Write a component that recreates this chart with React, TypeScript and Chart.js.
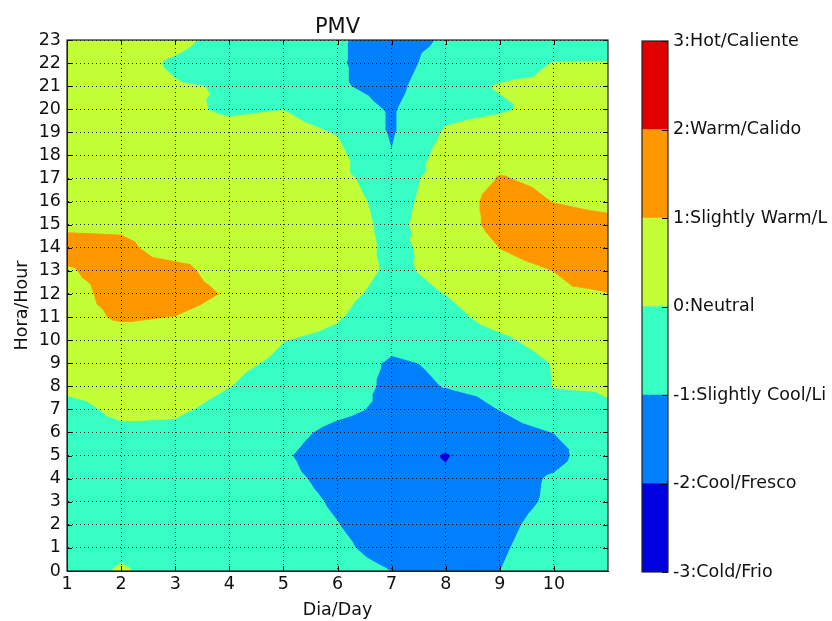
import React, { useEffect, useRef } from "react";
import { Chart, registerables } from "chart.js";

Chart.register(...registerables);

// ---------------- data ----------------
const chartTitle = "PMV";
const xTitle = "Dia/Day";
const yTitle = "Hora/Hour";

const days = [1, 2, 3, 4, 5, 6, 7, 8, 9, 10, 11];
const hours = [0, 1, 2, 3, 4, 5, 6, 7, 8, 9, 10, 11, 12, 13, 14, 15, 16, 17, 18, 19, 20, 21, 22, 23];
const xTickLabels = ["1", "2", "3", "4", "5", "6", "7", "8", "9", "10"];

// PMV value per day, hour 0..23
const day1 = [-0.5, -0.5, -0.5, -0.5, -0.5, -0.5, -0.4, -0.3, 0.2, 0.4, 0.6, 0.7, 0.6, 0.92, 1.3, 0.84, 0.7, 0.6, 0.5, 0.5, 0.5, 0.5, 0.5, 0.5];
const day2 = [0.1, -0.2, -0.4, -0.4, -0.4, -0.4, -0.2, 0.2, 0.35, 0.5, 0.6, 1.1, 1.4, 1.32, 1.25, 0.8, 0.6, 0.5, 0.4, 0.4, 0.35, 0.3, 0.3, 0.3];
const day3 = [-0.4, -0.5, -0.5, -0.5, -0.5, -0.5, -0.15, 0.1, 0.3, 0.5, 0.7, 0.98, 1.4, 1.33, 0.5, 0.5, 0.5, 0.45, 0.4, 0.3, 0.15, 0.05, -0.1, 0.2];
const day4 = [-0.5, -0.6, -0.6, -0.6, -0.7, -0.7, -0.5, -0.2, 0.01, 0.13, 0.3, 0.6, 0.9, 0.5, 0.6, 0.6, 0.6, 0.5, 0.4, 0.2, -0.1, -0.04, -0.4, -0.3];
const day5 = [-0.6, -0.6, -0.65, -0.7, -0.8, -0.9, -0.7, -0.4, -0.3, -0.1, 0.01, 0.3, 0.5, 0.6, 0.7, 0.7, 0.7, 0.6, 0.5, 0.3, -0.01, -0.3, -0.6, -0.5];
const day6 = [-0.6, -0.8, -0.98, -1.1, -1.25, -1.5, -1.25, -0.79, -0.5, -0.6, -0.15, 0.05, 0.17, 0.3, 0.39, 0.39, 0.3, 0.2, 0.2, -0.05, -0.5, -0.9, -0.9, -0.9];
const day7 = [-1.01, -1.4, -1.5, -1.6, -1.7, -1.6, -1.5, -1.2, -1.2, -1.1, -0.8, -0.4, -0.2, -0.1, -0.15, -0.2, -0.25, -0.4, -0.97, -1.1, -1.1, -1.3, -1.5, -1.4];
const day8 = [-1.3, -1.6, -1.7, -1.8, -1.9, -2.05, -1.7, -1.38, -0.98, -0.9, -0.6, -0.3, 0.01, 0.12, 0.22, 0.4, 0.33, 0.35, 0.4, 0.1, -0.27, -0.3, -0.5, -0.9];
const day9 = [-1.005, -1.1, -1.2, -1.3, -1.4, -1.5, -1.3, -0.99, -0.8, -0.7, -0.19, 0.37, 0.6, 0.7, 1.01, 1.31, 1.39, 1.05, 0.7, 0.4, -0.1, 0.05, -0.4, -0.6];
const day10 = [-0.5, -0.6, -0.7, -0.88, -0.9, -1.3, -0.99, -0.5, 0.03, 0.05, 0.44, 0.7, 0.9, 1.004, 1.4, 1.3, 0.98, 0.8, 0.7, 0.6, 0.3, 0.15, 0.02, -0.5];
const day11 = [-0.4, -0.4, -0.5, -0.5, -0.4, -0.3, -0.5, -0.1, 0.1, 0.3, 0.5, 0.8, 0.98, 1.3, 1.4, 1.2, 0.8, 0.6, 0.5, 0.5, 0.4, 0.2, 0.03, -0.4];
const pmvByDay = [day1, day2, day3, day4, day5, day6, day7, day8, day9, day10, day11];

const levels = [-3, -2, -1, 0, 1, 2, 3];
const bandColors = ["#0000e0", "#0080ff", "#37ffc3", "#c3ff37", "#ff9700", "#e00000"];
const levelLabels = [
  "-3:Cold/Frio",
  "-2:Cool/Fresco",
  "-1:Slightly Cool/Li",
  "0:Neutral",
  "1:Slightly Warm/L",
  "2:Warm/Calido",
  "3:Hot/Caliente",
];

// ---------------- helpers ----------------
const FONT = "'DejaVu Sans', 'Liberation Sans', sans-serif";
const TXT = "#111111";
const FONT_SIZE = 17.5;

type P = { x: number; y: number; v: number };

function clipPoly(poly: P[], t: number, keepAbove: boolean): P[] {
  const out: P[] = [];
  const n = poly.length;
  for (let k = 0; k < n; k++) {
    const a = poly[k];
    const b = poly[(k + 1) % n];
    const ina = keepAbove ? a.v >= t : a.v <= t;
    const inb = keepAbove ? b.v >= t : b.v <= t;
    if (ina) out.push(a);
    if (ina !== inb) {
      const s = (t - a.v) / (b.v - a.v);
      out.push({ x: a.x + s * (b.x - a.x), y: a.y + s * (b.y - a.y), v: t });
    }
  }
  return out;
}

const contourPlugin = {
  id: "contourFill",
  beforeDraw(chart: any) {
    const { ctx, chartArea } = chart;
    const X = chart.scales.x;
    const Y = chart.scales.y;
    const data = chart.data.datasets[0].data as { x: number; y: number; v: number }[];
    const grid = new Map<string, number>();
    data.forEach((p) => grid.set(p.x + "," + p.y, p.v));
    const pt = (dx: number, hy: number): P => ({
      x: X.getPixelForValue(dx),
      y: Y.getPixelForValue(hy),
      v: grid.get(dx + "," + hy) as number,
    });
    const tris: P[][] = [];
    for (let i = 0; i < days.length - 1; i++) {
      for (let j = 0; j < hours.length - 1; j++) {
        const a = pt(days[i], hours[j]);
        const b = pt(days[i + 1], hours[j]);
        const c = pt(days[i + 1], hours[j + 1]);
        const d = pt(days[i], hours[j + 1]);
        const m: P = { x: (a.x + c.x) / 2, y: (a.y + c.y) / 2, v: (a.v + b.v + c.v + d.v) / 4 };
        tris.push([a, b, m], [b, c, m], [c, d, m], [d, a, m]);
      }
    }
    ctx.save();
    ctx.beginPath();
    ctx.rect(chartArea.left, chartArea.top, chartArea.right - chartArea.left, chartArea.bottom - chartArea.top);
    ctx.clip();
    for (let k = 0; k < bandColors.length; k++) {
      const lo = levels[k];
      const hi = levels[k + 1];
      ctx.beginPath();
      let any = false;
      for (const tri of tris) {
        let p = clipPoly(tri, lo, true);
        if (p.length >= 3) p = clipPoly(p, hi, false);
        if (p.length >= 3) {
          any = true;
          ctx.moveTo(p[0].x, p[0].y);
          for (let q = 1; q < p.length; q++) ctx.lineTo(p[q].x, p[q].y);
          ctx.closePath();
        }
      }
      if (any) {
        ctx.fillStyle = bandColors[k];
        ctx.fill();
        ctx.strokeStyle = bandColors[k];
        ctx.lineWidth = 0.8;
        ctx.lineJoin = "round";
        ctx.stroke();
      }
    }
    ctx.restore();
  },
  afterDraw(chart: any) {
    const { ctx, chartArea } = chart;
    const X = chart.scales.x;
    const Y = chart.scales.y;
    const { left, right, top, bottom } = chartArea;
    ctx.save();
    ctx.strokeStyle = "#000";
    ctx.lineWidth = 1;
    ctx.beginPath();
    const tl = 5;
    xTickLabels.forEach((lab) => {
      const px = Math.round(X.getPixelForValue(Number(lab))) + 0.5;
      ctx.moveTo(px, bottom);
      ctx.lineTo(px, bottom - tl);
      ctx.moveTo(px, top);
      ctx.lineTo(px, top + tl);
    });
    hours.forEach((h) => {
      const py = Math.round(Y.getPixelForValue(h)) + 0.5;
      ctx.moveTo(left, py);
      ctx.lineTo(left + tl, py);
      ctx.moveTo(right, py);
      ctx.lineTo(right - tl, py);
    });
    ctx.stroke();
    ctx.lineWidth = 1.2;
    ctx.strokeStyle = "#222";
    ctx.strokeRect(left, top, right - left, bottom - top);
    ctx.fillStyle = TXT;
    ctx.font = `21px ${FONT}`;
    ctx.textAlign = "center";
    ctx.textBaseline = "alphabetic";
    ctx.fillText(chartTitle, (left + right) / 2, 33);
    ctx.restore();
  },
};

const colorbarFrame = {
  id: "cbFrame",
  afterDraw(chart: any) {
    const { ctx, chartArea } = chart;
    const Y = chart.scales.y;
    const { left, right, top, bottom } = chartArea;
    ctx.save();
    ctx.strokeStyle = "#000";
    ctx.lineWidth = 1;
    ctx.beginPath();
    levels.forEach((lv) => {
      const py = Math.round(Y.getPixelForValue(lv)) + 0.5;
      ctx.moveTo(right, py);
      ctx.lineTo(right - 6, py);
    });
    ctx.stroke();
    ctx.lineWidth = 1.2;
    ctx.strokeStyle = "#222";
    ctx.strokeRect(left, top, right - left, bottom - top);
    ctx.restore();
  },
};

export default function App() {
  const mainRef = useRef<HTMLCanvasElement>(null);
  const cbRef = useRef<HTMLCanvasElement>(null);

  useEffect(() => {
    const points: { x: number; y: number; v: number }[] = [];
    days.forEach((d, i) => {
      hours.forEach((h, j) => {
        points.push({ x: d, y: h, v: pmvByDay[i][j] });
      });
    });

    const tickFont = { family: FONT, size: FONT_SIZE };

    const main = new Chart(mainRef.current as HTMLCanvasElement, {
      type: "scatter",
      data: {
        datasets: [
          {
            label: "PMV",
            data: points as any,
            pointRadius: 0,
            pointHoverRadius: 0,
            showLine: false,
          },
        ],
      },
      options: {
        animation: false,
        responsive: false,
        events: [],
        layout: { padding: { left: 0, right: 32, top: 40, bottom: 0 } },
        plugins: { legend: { display: false }, tooltip: { enabled: false }, title: { display: false } },
        scales: {
          x: {
            type: "linear",
            min: days[0],
            max: days[days.length - 1],
            ticks: {
              stepSize: 1,
              autoSkip: false,
              maxRotation: 0,
              padding: 3,
              color: TXT,
              font: tickFont,
              callback: (v: any) => (xTickLabels.includes(String(v)) ? String(v) : null),
            },
            grid: { color: "rgba(0,0,0,0.85)", lineWidth: 1, drawTicks: false },
            border: { display: true, color: "#222", width: 1, dash: [1, 3] },
            title: { display: true, text: xTitle, color: TXT, font: tickFont, padding: { top: 0, bottom: 0 } },
            afterFit: (s: any) => {
              s.height = 50;
            },
          },
          y: {
            type: "linear",
            min: hours[0],
            max: hours[hours.length - 1],
            ticks: {
              stepSize: 1,
              autoSkip: false,
              padding: 6,
              color: TXT,
              font: tickFont,
            },
            grid: { color: "rgba(0,0,0,0.85)", lineWidth: 1, drawTicks: false },
            border: { display: true, color: "#222", width: 1, dash: [1, 3] },
            title: { display: true, text: yTitle, color: TXT, font: tickFont, padding: { top: 12, bottom: 0 } },
            afterFit: (s: any) => {
              s.width = 67;
            },
          },
        },
      } as any,
      plugins: [contourPlugin],
    });

    const cb = new Chart(cbRef.current as HTMLCanvasElement, {
      type: "bar",
      data: {
        labels: [""],
        datasets: bandColors.map((c, k) => ({
          label: levelLabels[k],
          data: [[levels[k], levels[k + 1]]] as any,
          backgroundColor: c,
          borderWidth: 0,
          barPercentage: 1,
          categoryPercentage: 1,
          grouped: false,
        })),
      },
      options: {
        animation: false,
        responsive: false,
        events: [],
        layout: { padding: { left: 12, right: 0, top: 41, bottom: 49 } },
        plugins: { legend: { display: false }, tooltip: { enabled: false }, title: { display: false } },
        scales: {
          x: { display: false },
          y: {
            position: "right",
            min: levels[0],
            max: levels[levels.length - 1],
            ticks: {
              stepSize: 1,
              autoSkip: false,
              padding: 5,
              color: TXT,
              font: tickFont,
              callback: (v: any) => {
                const idx = levels.indexOf(Number(v));
                return idx >= 0 ? levelLabels[idx] : null;
              },
            },
            grid: { display: false, drawTicks: false },
            border: { display: false },
            afterFit: (s: any) => {
              s.width = 164;
            },
          },
        },
      } as any,
      plugins: [colorbarFrame],
    });

    return () => {
      main.destroy();
      cb.destroy();
    };
  }, []);

  return (
    <div style={{ position: "absolute", left: 0, top: 0, width: 832, height: 621, background: "#fff" }}>
      <canvas
        ref={mainRef}
        width={640}
        height={621}
        style={{ position: "absolute", left: 0, top: 0, width: 640, height: 621 }}
      />
      <canvas
        ref={cbRef}
        width={202}
        height={621}
        style={{ position: "absolute", left: 630, top: 0, width: 202, height: 621 }}
      />
    </div>
  );
}
